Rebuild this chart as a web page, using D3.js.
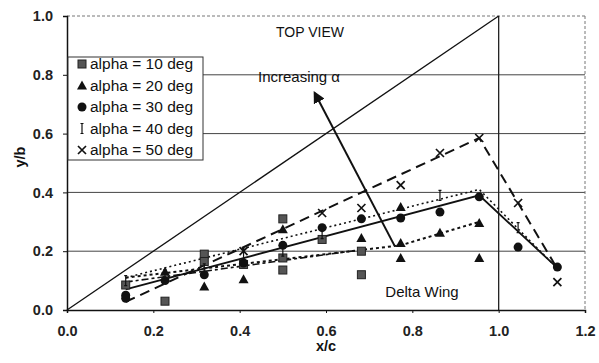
<!DOCTYPE html>
<html>
<head>
<meta charset="utf-8">
<script src="https://cdn.jsdelivr.net/npm/d3@7"></script>
<style>
  body { margin: 0; background: #fff; }
  svg { font-family: "Liberation Sans", Arial, sans-serif; }
</style>
</head>
<body>
<svg id="chart" width="599" height="363"></svg>
<script>
// measured points, [x/c, y/b]
var alpha10 = [[0.136,0.085],[0.227,0.03],[0.318,0.19],[0.318,0.165],[0.409,0.155],[0.5,0.31],
               [0.5,0.177],[0.5,0.136],[0.591,0.24],[0.682,0.2],[0.682,0.12]];
var alpha20 = [[0.227,0.13],[0.318,0.08],[0.409,0.105],[0.5,0.275],[0.682,0.245],[0.773,0.35],
               [0.773,0.228],[0.773,0.177],[0.864,0.263],[0.955,0.296],[0.955,0.177]];
var alpha30 = [[0.136,0.05],[0.136,0.04],[0.227,0.1],[0.318,0.12],[0.409,0.16],[0.5,0.22],[0.591,0.28],
               [0.682,0.31],[0.773,0.313],[0.864,0.333],[0.955,0.385],[1.045,0.214],[1.136,0.146]];
var alpha40 = [[0.136,0.1],[0.227,0.12],[0.318,0.14],[0.409,0.19],[0.5,0.2],[0.591,0.26],
               [0.864,0.39],[1.045,0.28]];
var alpha50 = [[0.409,0.2],[0.591,0.33],[0.682,0.347],[0.773,0.425],[0.864,0.534],[0.955,0.585],
               [1.045,0.364],[1.136,0.095]];

// hand drawn trend lines for each alpha
var fit10 = [[0.136,0.095],[0.682,0.205]];
var fit20 = [[0.136,0.11],[0.773,0.22],[0.955,0.3]];
var fit30 = [[0.136,0.07],[0.955,0.39],[1.136,0.143]];
var fit40 = [[0.136,0.11],[0.955,0.41],[1.13,0.15]];
var fit50 = [[0.136,0.028],[0.955,0.585],[1.13,0.155]];

// wing leading edge (top view)
var leadingEdge = [[0,0],[1,1]];
var arrowLine = [[0.759,0.218],[0.574,0.738]];

var xTicks = [0,0.2,0.4,0.6,0.8,1.0,1.2];
var yTicks = [0,0.2,0.4,0.6,0.8,1.0];
var legendLabels = ["alpha = 10 deg","alpha = 20 deg","alpha = 30 deg","alpha = 40 deg","alpha = 50 deg"];

var svg = d3.select("#chart");
var x = d3.scaleLinear().domain([0,1.2]).range([67,585]);
var y = d3.scaleLinear().domain([0,1]).range([310,16]);
var line = d3.line().x(function(d){ return x(d[0]); }).y(function(d){ return y(d[1]); });

/* grid and frame */
svg.append("g").selectAll("line").data(yTicks.slice(1,5)).join("line")
    .attr("x1", x(0)).attr("x2", x(1.2))
    .attr("y1", function(d){ return y(d); }).attr("y2", function(d){ return y(d); })
    .attr("stroke", "#444").attr("stroke-width", 1);
svg.append("line").attr("x1", x(0)).attr("x2", x(1.2)).attr("y1", y(1)).attr("y2", y(1))
    .attr("stroke", "#777").attr("stroke-dasharray", "3,2");
svg.append("line").attr("x1", x(1.2)).attr("x2", x(1.2)).attr("y1", y(1)).attr("y2", y(0))
    .attr("stroke", "#777").attr("stroke-dasharray", "3,2");
svg.append("line").attr("x1", x(1)).attr("x2", x(1)).attr("y1", y(1)).attr("y2", y(0))
    .attr("stroke", "#222").attr("stroke-width", 1.3);

/* axes */
var xAxis = d3.axisBottom(x).tickValues(xTicks).tickFormat(d3.format(".1f")).tickSize(3).tickPadding(13);
var yAxis = d3.axisLeft(y).tickValues(yTicks).tickFormat(d3.format(".1f")).tickSize(4).tickPadding(10);
var gx = svg.append("g").attr("transform", "translate(0," + y(0) + ")").call(xAxis);
var gy = svg.append("g").attr("transform", "translate(" + x(0) + ",0)").call(yAxis);
[gx, gy].forEach(function(g){
    g.select(".domain").attr("stroke", "#111").attr("stroke-width", 1.5);
    g.selectAll(".tick line").attr("stroke", "#111");
    g.selectAll("text").attr("font-size", 14.5).attr("font-weight", "bold").attr("fill", "#222");
});

svg.append("text").attr("x", x(0.6)).attr("y", 351).attr("text-anchor", "middle")
    .attr("font-size", 14.5).attr("font-weight", "bold").attr("fill", "#111").text("x/c");
svg.append("text").attr("transform", "translate(25,157) rotate(-90)").attr("text-anchor", "middle")
    .attr("font-size", 14.5).attr("font-weight", "bold").attr("fill", "#111").text("y/b");

/* leading edge and annotation arrow */
svg.append("path").attr("d", line(leadingEdge)).attr("fill", "none").attr("stroke", "#111").attr("stroke-width", 1.3);
svg.append("defs").append("marker").attr("id", "head").attr("viewBox", "0 0 10 10")
    .attr("refX", 8).attr("refY", 5).attr("markerWidth", 6).attr("markerHeight", 6).attr("orient", "auto")
    .append("path").attr("d", "M0,0L10,5L0,10z").attr("fill", "#111");
svg.append("path").attr("d", line(arrowLine)).attr("stroke", "#111").attr("stroke-width", 2)
    .attr("marker-end", "url(#head)");

/* trend lines */
var fits = [
    {pts: fit10, dash: "7,3,3,3", w: 1.6},
    {pts: fit20, dash: "3,3", w: 2},
    {pts: fit30, dash: null, w: 1.8},
    {pts: fit40, dash: "2,3", w: 1.6},
    {pts: fit50, dash: "10,6", w: 2}
];
fits.forEach(function(f){
    svg.append("path").attr("d", line(f.pts)).attr("fill", "none")
        .attr("stroke", "#111").attr("stroke-width", f.w).attr("stroke-dasharray", f.dash);
});

/* marker shapes */
function drawMarker(g, kind, cx, cy){
    if(kind == 0){
        g.append("rect").attr("x", cx-4).attr("y", cy-4).attr("width", 8).attr("height", 8)
            .attr("fill", "#555").attr("stroke", "#222").attr("stroke-width", 1);
    }
    else if(kind == 1){
        g.append("path").attr("d", "M" + cx + "," + (cy-5) + "L" + (cx+5) + "," + (cy+4) + "L" + (cx-5) + "," + (cy+4) + "Z")
            .attr("fill", "#111");
    }
    else if(kind == 2){
        g.append("circle").attr("cx", cx).attr("cy", cy).attr("r", 4.5).attr("fill", "#111");
    }
    else if(kind == 3){
        g.append("path").attr("d", "M" + cx + "," + (cy-5) + "V" + (cy+5) + "M" + (cx-1.5) + "," + (cy-5) + "H" + (cx+1.5) +
            "M" + (cx-1.5) + "," + (cy+5) + "H" + (cx+1.5))
            .attr("stroke", "#111").attr("stroke-width", 1.2).attr("fill", "none");
    }
    else {
        g.append("path").attr("d", "M" + (cx-4) + "," + (cy-4) + "L" + (cx+4) + "," + (cy+4) + "M" + (cx+4) + "," + (cy-4) + "L" + (cx-4) + "," + (cy+4))
            .attr("stroke", "#111").attr("stroke-width", 1.7).attr("fill", "none");
    }
}

var series = [alpha10, alpha20, alpha30, alpha40, alpha50];
series.forEach(function(s, i){
    var g = svg.append("g");
    s.forEach(function(d){ drawMarker(g, i, x(d[0]), y(d[1])); });
});

/* legend */
var lg = svg.append("g").attr("transform", "translate(68,57)");
lg.append("rect").attr("width", 135).attr("height", 103).attr("fill", "#fff")
    .attr("stroke", "#333").attr("stroke-width", 1);
legendLabels.forEach(function(t, i){
    var cy = 7 + i * 21.5;
    drawMarker(lg, i, 14, cy);
    lg.append("text").attr("x", 22).attr("y", cy + 5).attr("font-size", 15.5).attr("fill", "#111").text(t);
});

/* labels */
svg.append("text").attr("x", 310).attr("y", 37).attr("text-anchor", "middle").attr("font-size", 14).attr("fill", "#111").text("TOP VIEW");
svg.append("text").attr("x", 299).attr("y", 82).attr("text-anchor", "middle").attr("font-size", 15).attr("fill", "#111").text("Increasing α");
svg.append("text").attr("x", 422).attr("y", 297).attr("text-anchor", "middle").attr("font-size", 15).attr("fill", "#111").text("Delta Wing");
</script>
</body>
</html>
